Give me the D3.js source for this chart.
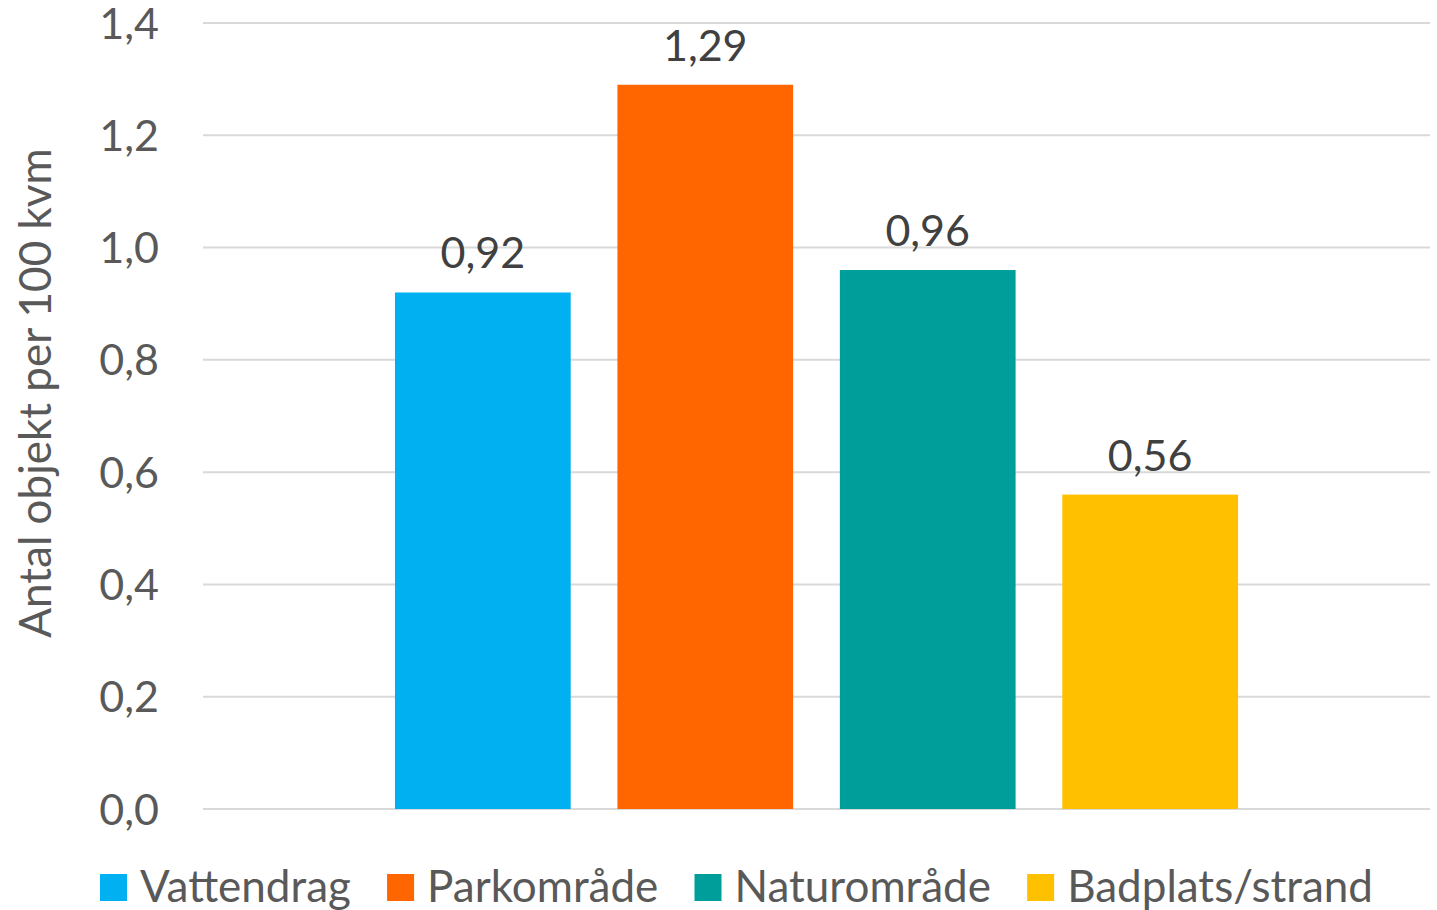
<!DOCTYPE html>
<html lang="sv">
<head>
  <meta charset="utf-8">
  <title>Antal objekt per 100 kvm</title>
  <script src="https://d3js.org/d3.v7.min.js"></script>
  <style>
    body { margin: 0; background: #fff; }
    svg text { font-family: Lato, "Open Sans", sans-serif; }
  </style>
</head>
<body>
<div id="chart"></div>
<script>
// data
var categories = ["Vattendrag", "Parkområde", "Naturområde", "Badplats/strand"];
var values = [0.92, 1.29, 0.96, 0.56];
var valueLabels = ["0,92", "1,29", "0,96", "0,56"];
var colors = ["#00B0F0", "#FF6600", "#009E9A", "#FFC000"];
var yTicks = [0, 0.2, 0.4, 0.6, 0.8, 1.0, 1.2, 1.4];

var W = 1437, H = 910;
var svg = d3.select("#chart").append("svg")
  .attr("width", W).attr("height", H);

var x = d3.scaleBand()
  .domain(categories)
  .range([203, 1430])
  .paddingInner(0.21)
  .paddingOuter(0.863);

var y = d3.scaleLinear()
  .domain([0, 1.4])
  .range([809, 23]);

// gridlines
svg.append("g")
  .selectAll("line")
  .data(yTicks)
  .enter().append("line")
    .attr("x1", 203).attr("x2", 1430)
    .attr("y1", function(d) { return y(d); })
    .attr("y2", function(d) { return y(d); })
    .attr("stroke", "#d9d9d9")
    .attr("stroke-width", 2);

// y axis labels
var yAxis = svg.append("g")
  .attr("transform", "translate(159,0)")
  .call(d3.axisLeft(y).tickValues(yTicks).tickSize(0).tickPadding(0)
    .tickFormat(function(d) { return d3.format(".1f")(d).replace(".", ","); }));
yAxis.select(".domain").remove();
yAxis.selectAll("text")
  .attr("font-family", "Lato, 'Open Sans', sans-serif")
  .attr("font-size", 43)
  .attr("fill", "#595959")
  .attr("dy", "0.35em");

// bars
svg.append("g")
  .selectAll("rect")
  .data(categories)
  .enter().append("rect")
    .attr("x", function(d) { return x(d); })
    .attr("width", x.bandwidth())
    .attr("y", function(d, i) { return y(values[i]); })
    .attr("height", function(d, i) { return y(0) - y(values[i]); })
    .attr("fill", function(d, i) { return colors[i]; });

// value labels
svg.append("g")
  .selectAll("text")
  .data(categories)
  .enter().append("text")
    .attr("x", function(d) { return x(d) + x.bandwidth() / 2; })
    .attr("y", function(d, i) { return y(values[i]) - 24; })
    .attr("text-anchor", "middle")
    .attr("font-size", 43)
    .attr("fill", "#404040")
    .text(function(d, i) { return valueLabels[i]; });

// y axis title
svg.append("text")
  .attr("transform", "translate(51,393) rotate(-90)")
  .attr("text-anchor", "middle")
  .attr("font-size", 44)
  .attr("fill", "#595959")
  .text("Antal objekt per 100 kvm");

// legend, spread from x=100 to x=1373
var legend = svg.append("g");
var items = legend.selectAll("g")
  .data(categories)
  .enter().append("g");
items.append("rect")
  .attr("width", 27).attr("height", 27)
  .attr("y", 874)
  .attr("fill", function(d, i) { return colors[i]; });
items.append("text")
  .attr("x", 40)
  .attr("y", 902)
  .attr("font-size", 44)
  .attr("fill", "#595959")
  .text(function(d) { return d; });

var widths = [];
items.each(function() {
  widths.push(40 + d3.select(this).select("text").node().getComputedTextLength());
});
var gap = (1273 - d3.sum(widths)) / (widths.length - 1);
var pos = 100;
items.attr("transform", function(d, i) {
  var t = "translate(" + pos + ",0)";
  pos += widths[i] + gap;
  return t;
});
</script>
</body>
</html>
